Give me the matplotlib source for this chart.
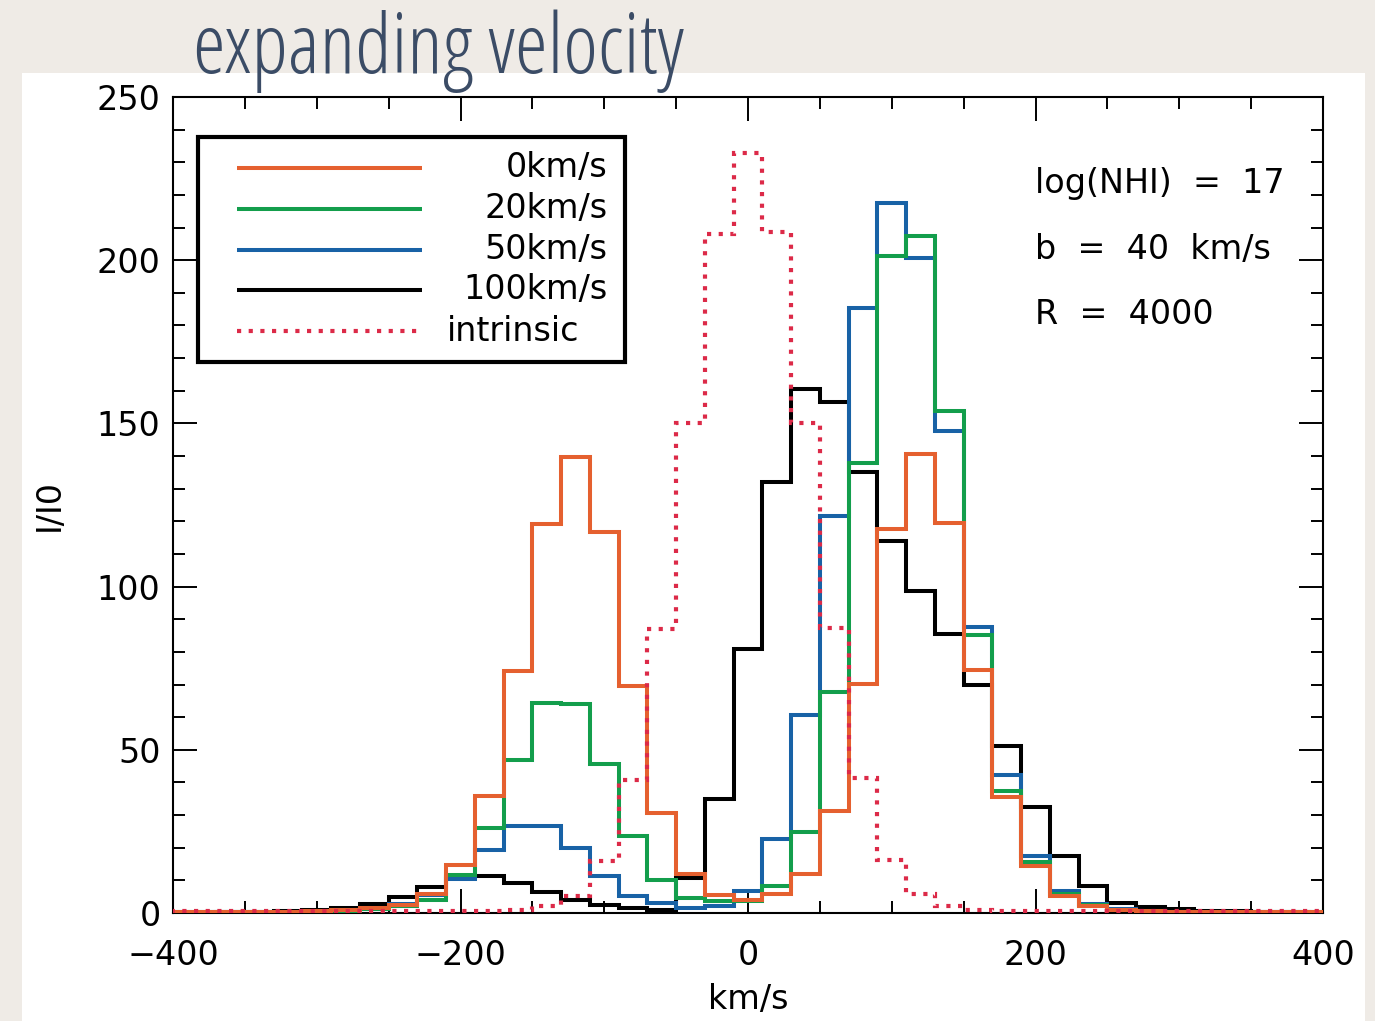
import numpy as np
import matplotlib
matplotlib.use("Agg")
import matplotlib.pyplot as plt
from matplotlib.patches import Rectangle
from matplotlib.ticker import MultipleLocator

# ---------------- data ----------------
bin_centers = np.arange(-400, 401, 20)          # km/s, bin width 20
bin_width = 20

v0 = [0.3, 0.3, 0.3, 0.3, 0.4, 0.5, 0.8, 1.4, 2.6, 5.8,
      14.6, 35.8, 74.1, 119.1, 139.6, 116.6, 69.5, 30.7, 11.9, 5.6,
      4.1, 5.8, 12.1, 31.2, 70.1, 117.5, 140.6, 119.5, 74.5, 35.5,
      14.5, 5.1, 2.2, 1.0, 0.6, 0.4, 0.3, 0.3, 0.3, 0.3, 0.3]

v20 = [0.2, 0.2, 0.2, 0.2, 0.3, 0.4, 0.6, 1.2, 2.2, 4.1,
       11.5, 26.0, 47.0, 64.4, 63.9, 45.5, 23.7, 10.2, 4.5, 3.6,
       3.6, 8.3, 24.9, 67.6, 137.8, 201.3, 207.5, 153.7, 85.2, 37.4,
       15.5, 5.8, 2.4, 1.0, 0.5, 0.3, 0.2, 0.2, 0.2, 0.2, 0.2]

v50 = [0.2, 0.2, 0.2, 0.2, 0.3, 0.4, 0.7, 1.3, 2.8, 5.5,
       10.5, 19.4, 26.6, 26.6, 19.9, 11.2, 5.1, 3.1, 1.5, 2.0,
       6.8, 22.8, 60.7, 121.6, 185.5, 217.5, 200.8, 147.7, 87.5, 42.2,
       17.6, 6.6, 2.8, 1.1, 0.5, 0.3, 0.2, 0.2, 0.2, 0.2, 0.2]

v100 = [0.1, 0.1, 0.2, 0.3, 0.5, 1.0, 1.5, 2.8, 4.8, 7.9,
        10.9, 11.3, 9.2, 6.3, 4.1, 2.6, 1.5, 1.0, 10.7, 34.8,
        80.8, 132.0, 160.4, 156.5, 135.0, 114.0, 98.8, 85.4, 70.0, 51.3,
        32.6, 17.6, 8.2, 3.2, 1.7, 1.2, 0.7, 0.5, 0.3, 0.2, 0.1]

intrinsic = [0.5, 0.5, 0.5, 0.5, 0.5, 0.5, 0.5, 0.5, 0.5, 0.5,
             0.5, 0.7, 1.0, 2.0, 5.1, 15.8, 40.9, 86.9, 150.2, 208.0,
             232.8, 208.5, 150.2, 87.3, 41.3, 16.3, 5.8, 2.0, 1.0, 0.7,
             0.5, 0.5, 0.5, 0.5, 0.5, 0.5, 0.5, 0.5, 0.5, 0.5, 0.5]

series_labels = ["0km/s", "20km/s", "50km/s", "100km/s", "intrinsic"]
annotations = ["log(NHI)  =  17", "b  =  40  km/s", "R  =  4000"]
xticks = [-400, -200, 0, 200, 400]
yticks = [0, 50, 100, 150, 200, 250]

# ---------------- style ----------------
C_ORANGE = "#e5602f"
C_GREEN = "#139e4c"
C_BLUE = "#1862a6"
C_BLACK = "#000000"
C_INTR = "#dc2a48"
FONT = ["DejaVu Sans"]
FW = "normal"
FS = 24

fig = plt.figure(figsize=(13.75, 10.21), dpi=100)
fig.patch.set_facecolor("#efebe6")
fig.patches.append(Rectangle((22 / 1375, 0), (1365 - 22) / 1375, (1021 - 73) / 1021,
                             transform=fig.transFigure, facecolor="white",
                             edgecolor="none", zorder=-10))

ax = fig.add_axes([173 / 1375, 1 - 913 / 1021, 1150 / 1375, 816 / 1021])
ax.set_facecolor("white")
ax.set_zorder(1)

fig.text(193 / 1375, 1 - 73 / 1021, "expanding velocity", ha="left", va="baseline",
         fontsize=60, color="#3b4c66", family=["Open Sans", "DejaVu Sans"],
         fontstretch="condensed", fontweight="medium", zorder=5)

edges = np.append(bin_centers - bin_width / 2, bin_centers[-1] + bin_width / 2)
lw = 2.9
ax.stairs(v100, edges, baseline=None, color=C_BLACK, lw=lw, zorder=3)
ax.stairs(v50, edges, baseline=None, color=C_BLUE, lw=lw, zorder=4)
ax.stairs(v20, edges, baseline=None, color=C_GREEN, lw=lw, zorder=5)
ax.stairs(v0, edges, baseline=None, color=C_ORANGE, lw=lw, zorder=6)
ax.stairs(intrinsic, edges, baseline=None, color=C_INTR, lw=3.0,
          linestyle=(0, (1, 1.8)), zorder=7)

ax.set_xlim(-400, 400)
ax.set_ylim(0, 250)
ax.set_xticks(xticks)
ax.set_xticklabels([str(t).replace("-", "\u2212") for t in xticks])
ax.set_yticks(yticks)
ax.xaxis.set_minor_locator(MultipleLocator(50))
ax.yaxis.set_minor_locator(MultipleLocator(10))
ax.tick_params(which="both", direction="in", top=True, right=True, width=1.4,
               labelsize=FS)
ax.tick_params(which="major", length=17)
ax.tick_params(which="minor", length=8.5)
ax.tick_params(axis="x", pad=19)
ax.tick_params(axis="y", pad=9)
for lab in ax.get_xticklabels() + ax.get_yticklabels():
    lab.set_family(FONT)
    lab.set_fontweight(FW)
for s in ax.spines.values():
    s.set_linewidth(1.5)

ax.set_xlabel("km/s", fontsize=FS, family=FONT, fontweight=FW, labelpad=8)
ax.set_ylabel("I/I0", fontsize=FS, family=FONT, fontweight=FW, labelpad=22)

# legend (drawn as in the IDL original)
ax.add_patch(Rectangle((0.0217, 0.675), 0.3713, 0.276, transform=ax.transAxes,
                       fill=False, edgecolor="black", lw=3.0, zorder=8))
leg_y = [0.913, 0.863, 0.8125, 0.7635, 0.713]
leg_colors = [C_ORANGE, C_GREEN, C_BLUE, C_BLACK, C_INTR]
for lab, col, yy in zip(series_labels, leg_colors, leg_y):
    if lab == "intrinsic":
        ax.plot([0.0557, 0.2165], [yy, yy], transform=ax.transAxes, color=col,
                lw=3.0, linestyle=(0, (1, 1.8)), zorder=9)
        ax.text(0.238, yy, lab, transform=ax.transAxes, ha="left", va="center",
                fontsize=FS, family=FONT, fontweight=FW, zorder=9)
    else:
        ax.plot([0.0557, 0.2165], [yy, yy], transform=ax.transAxes, color=col,
                lw=lw, solid_capstyle="butt", zorder=9)
        ax.text(0.378, yy, lab, transform=ax.transAxes, ha="right", va="center",
                fontsize=FS, family=FONT, fontweight=FW, zorder=9)

for txt, yy in zip(annotations, [0.8946, 0.8137, 0.733]):
    ax.text(0.7496, yy, txt, transform=ax.transAxes, ha="left", va="center",
            fontsize=FS, family=FONT, fontweight=FW, zorder=9)

fig.savefig("out.png", dpi=100, facecolor=fig.get_facecolor())
